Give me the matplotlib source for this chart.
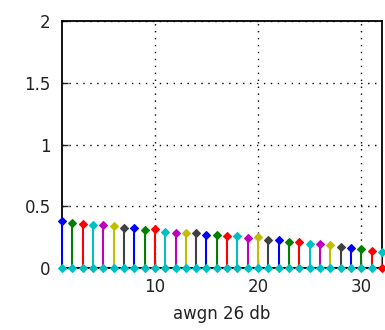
import matplotlib
matplotlib.use("Agg")
import matplotlib.pyplot as plt
import numpy as np

x = list(range(1, 33))
values = [0.38, 0.367, 0.356, 0.346, 0.346, 0.343, 0.322, 0.322, 0.31, 0.314,
          0.295, 0.281, 0.281, 0.283, 0.27, 0.27, 0.259, 0.262, 0.24, 0.249,
          0.227, 0.227, 0.211, 0.211, 0.197, 0.197, 0.184, 0.168, 0.164, 0.151,
          0.135, 0.13]
xticks = [10, 20, 30]
yticks = [0, 0.5, 1, 1.5, 2]
ytick_labels = ["0", "0.5", "1", "1.5", "2"]
xlabel = "awgn 26 db"

palette = [(0, 0, 1), (0, 0.5, 0), (1, 0, 0), (0, 0.75, 0.75),
           (0.75, 0, 0.75), (0.75, 0.75, 0), (0.25, 0.25, 0.25)]

plt.rcParams['font.family'] = ['DejaVu Sans']

fig = plt.figure(figsize=(3.85, 3.3), dpi=100)
ax = fig.add_axes([0.161, 0.188, 0.831, 0.748])

ax.axhline(0, color='black', lw=1.5, zorder=2)
for i, (xi, yi) in enumerate(zip(x, values)):
    c = palette[i % len(palette)]
    ax.plot([xi, xi], [0, yi], color=c, lw=1.5, zorder=3)
    ax.plot([xi], [yi], marker='D', ms=3.6, mew=0.8, color=c, mec=c, zorder=4, clip_on=False)
zero_colors = [(0, 0.75, 0.75)] * (len(x) - 1) + [(1, 0, 0)]
for xi, c in zip(x, zero_colors):
    ax.plot([xi], [0], marker='D', ms=3.6, mew=0.8, color=c, mec=c, zorder=5, clip_on=False)

ax.set_xlim(1, 32)
ax.set_ylim(0, 2)
ax.set_xticks(xticks)
ax.set_xticklabels([str(t) for t in xticks])
ax.set_yticks(yticks)
ax.set_yticklabels(ytick_labels)
ax.tick_params(direction='in', length=4, labelsize=12, colors='#222222', width=1)
ax.tick_params(axis='x', pad=7)
ax.tick_params(axis='y', pad=8)
ax.grid(True, color='black', linestyle=(0, (1, 4)), lw=1)
for s in ax.spines.values():
    s.set_linewidth(1.3)
    s.set_color('black')
ax.set_xlabel(xlabel, fontsize=12, labelpad=7, color='#222222')

fig.savefig("out.png", dpi=100)
